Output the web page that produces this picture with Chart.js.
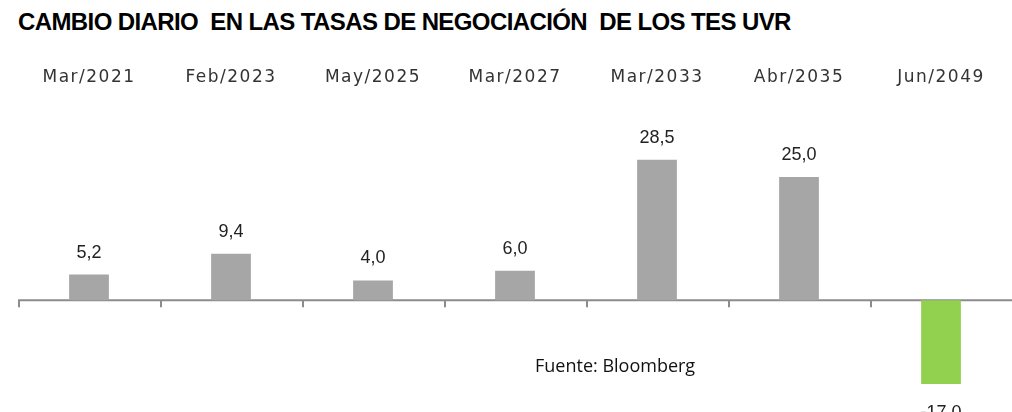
<!DOCTYPE html>
<html>
<head>
<meta charset="utf-8">
<script src="https://cdn.jsdelivr.net/npm/chart.js@4"></script>
<style>
    body { margin: 0; width: 1012px; height: 412px; overflow: hidden; background: #fff; position: relative; }
    #title { position: absolute; left: 18px; top: 8px; font: bold 24px "Liberation Sans", Arial, sans-serif; letter-spacing: -0.6px; color: #000; white-space: pre; }
    #box { position: absolute; left: 0; top: 50px; width: 1012px; height: 400px; }
    #fuente { position: absolute; left: 535px; top: 353px; font: 18px "Open Sans", sans-serif; color: #111; }
</style>
</head>
<body>
<div id="title">CAMBIO DIARIO  EN LAS TASAS DE NEGOCIACIÓN  DE LOS TES UVR</div>
<div id="box"><canvas id="uvrChart"></canvas></div>
<div id="fuente">Fuente: Bloomberg</div>
<script>
const bonos = ["Mar/2021", "Feb/2023", "May/2025", "Mar/2027", "Mar/2033", "Abr/2035", "Jun/2049"];
const cambios = [5.2, 9.4, 4.0, 6.0, 28.5, 25.0, -17.0]; // puntos basicos
const colores = cambios.map(v => v < 0 ? "#92D050" : "#A6A6A6");

// linea del cero con marcas hacia abajo entre categorias
const ejeCero = {
    id: "ejeCero",
    beforeDraw(chart) {
        chart.ctx.letterSpacing = "1.5px";
    },
    beforeDatasetsDraw(chart) {
        const { ctx, chartArea, scales } = chart;
        const y0 = scales.y.getPixelForValue(0);
        const paso = scales.x.getPixelForValue(1) - scales.x.getPixelForValue(0);
        ctx.save();
        ctx.strokeStyle = "#8C8C8C";
        ctx.lineWidth = 2;
        ctx.beginPath();
        ctx.moveTo(chartArea.left, y0);
        ctx.lineTo(chartArea.right, y0);
        for (let i = 0; i < bonos.length; i++) {
            const x = Math.round(scales.x.getPixelForValue(i) - paso / 2) + 1;
            ctx.moveTo(x, y0);
            ctx.lineTo(x, y0 + 7);
        }
        ctx.stroke();
        ctx.restore();
    },
    afterDatasetsDraw(chart) {
        const ctx = chart.ctx;
        ctx.save();
        ctx.letterSpacing = "0px";
        ctx.font = "18px 'Liberation Sans', Arial, sans-serif";
        ctx.fillStyle = "#222";
        ctx.textAlign = "center";
        ctx.textBaseline = "middle";
        chart.getDatasetMeta(0).data.forEach((bar, i) => {
            const v = cambios[i];
            const txt = v.toFixed(1).replace(".", ",");
            ctx.fillText(txt, bar.x, v >= 0 ? bar.y - 22 : bar.y + 29);
        });
        ctx.restore();
    },
    afterDraw(chart) {
        chart.ctx.letterSpacing = "0px";
    }
};

new Chart(document.getElementById("uvrChart").getContext("2d"), {
    type: "bar",
    data: {
        labels: bonos,
        datasets: [{
            data: cambios,
            backgroundColor: colores,
            borderWidth: 0,
            barPercentage: 1,
            categoryPercentage: 0.28
        }]
    },
    options: {
        responsive: true,
        maintainAspectRatio: false,
        animation: false,
        layout: { padding: { top: 14, left: 18, right: 0, bottom: 0 } },
        plugins: {
            legend: { display: false },
            tooltip: { enabled: false }
        },
        scales: {
            x: {
                position: "top",
                grid: { display: false },
                border: { display: false },
                ticks: {
                    color: "#333",
                    padding: 3,
                    maxRotation: 0,
                    font: { family: "DejaVu Sans", size: 17 }
                }
            },
            y: {
                display: false,
                min: -30.4,
                max: 40.95
            }
        }
    },
    plugins: [ejeCero]
});
</script>
</body>
</html>
